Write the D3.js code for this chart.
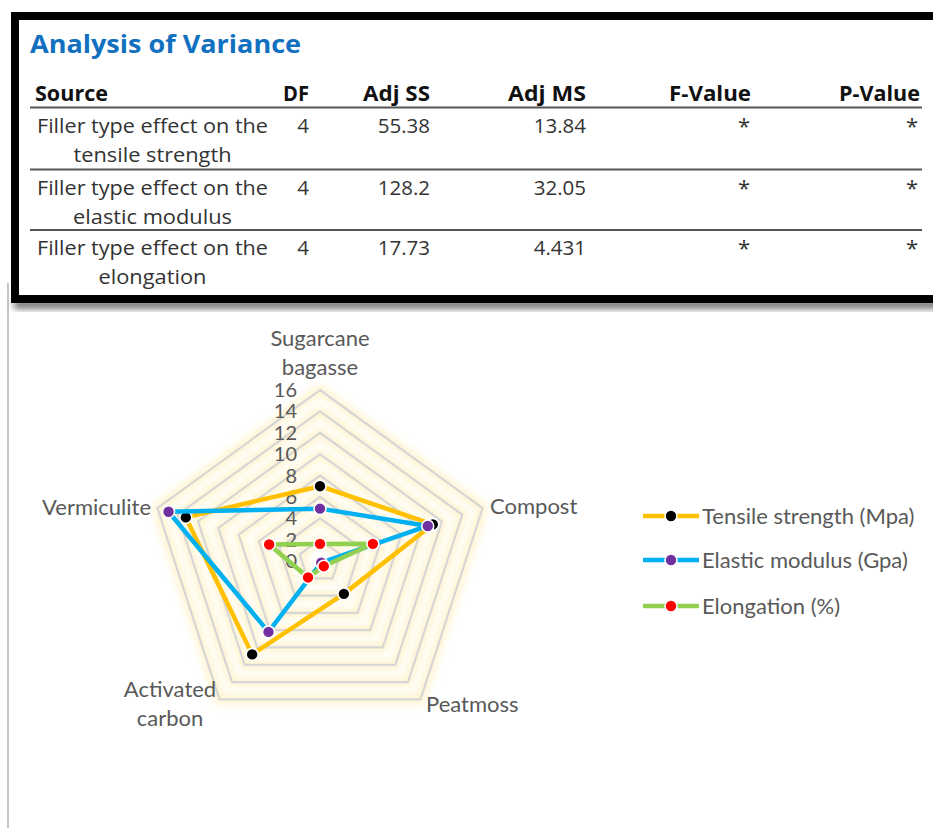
<!DOCTYPE html>
<html>
<head>
<meta charset="utf-8">
<script src="https://cdn.jsdelivr.net/npm/d3@7/dist/d3.min.js"></script>
<style>
  html, body { margin: 0; padding: 0; background: #ffffff; }
  svg { display: block; }
</style>
</head>
<body>
<svg id="chart" width="933" height="828"></svg>
<script>
// ---------- ANOVA table data ----------
const anovaTitle = "Analysis of Variance";
const anovaHeaders = ["Source", "DF", "Adj SS", "Adj MS", "F-Value", "P-Value"];
const anovaSource = [
  ["Filler type effect on the", "tensile strength"],
  ["Filler type effect on the", "elastic modulus"],
  ["Filler type effect on the", "elongation"]
];
const anovaDF = ["4", "4", "4"];
const anovaAdjSS = ["55.38", "128.2", "17.73"];
const anovaAdjMS = ["13.84", "32.05", "4.431"];
const anovaF = ["*", "*", "*"];
const anovaP = ["*", "*", "*"];

// ---------- Radar chart data ----------
const categories = ["Sugarcane\nbagasse", "Compost", "Peatmoss", "Activated\ncarbon", "Vermiculite"];
const tensile = [7.0, 11.1, 3.8, 10.8, 13.2];
const elastic = [4.9, 10.6, 0.2, 8.2, 14.9];
const elongation = [1.6, 5.2, 0.6, 1.9, 5.0];
const seriesNames = ["Tensile strength (Mpa)", "Elastic modulus (Gpa)", "Elongation (%)"];
const radialTicks = [0, 2, 4, 6, 8, 10, 12, 14, 16];

const svg = d3.select("#chart");
const defs = svg.append("defs");

// ---------- filters ----------
const shadow = defs.append("filter").attr("id", "shadow")
  .attr("x", "-5%").attr("y", "-30%").attr("width", "110%").attr("height", "160%");
shadow.append("feGaussianBlur").attr("stdDeviation", 3);

const glow = defs.append("filter").attr("id", "glow")
  .attr("x", "-20%").attr("y", "-20%").attr("width", "140%").attr("height", "140%");
glow.append("feGaussianBlur").attr("stdDeviation", 3.5);

// ---------- left border line of the chart area ----------
svg.append("line")
  .attr("x1", 8).attr("x2", 8).attr("y1", 283).attr("y2", 828)
  .attr("stroke", "#c4c4c4").attr("stroke-width", 2);

// ---------- table block ----------
const tbl = svg.append("g");
tbl.append("rect")
  .attr("x", 14).attr("y", 300).attr("width", 940).attr("height", 9)
  .attr("fill", "#7a7a7a").attr("filter", "url(#shadow)");
tbl.append("rect")
  .attr("x", 15).attr("y", 16).attr("width", 940).attr("height", 283)
  .attr("fill", "#ffffff").attr("stroke", "#000000").attr("stroke-width", 8);

const tFont = "'Open Sans', 'Noto Sans', sans-serif";
tbl.append("text")
  .attr("x", 30).attr("y", 53)
  .attr("font-family", tFont).attr("font-weight", 700).attr("font-size", 25)
  .attr("fill", "#1170bf")
  .attr("textLength", 271).attr("lengthAdjust", "spacingAndGlyphs")
  .text(anovaTitle);

const colX = [35, 309, 430, 586, 751, 920];
const colW = [73, 26, 67, 78, 82, 81];
tbl.selectAll("text.hdr").data(anovaHeaders).enter().append("text")
  .attr("class", "hdr")
  .attr("x", (d, i) => colX[i])
  .attr("y", 101)
  .attr("text-anchor", (d, i) => i === 0 ? "start" : "end")
  .attr("font-family", tFont).attr("font-weight", 700).attr("font-size", 21)
  .attr("fill", "#111111")
  .attr("textLength", (d, i) => colW[i]).attr("lengthAdjust", "spacingAndGlyphs")
  .text(d => d);

const rowLines = [107.5, 169.5, 230];
tbl.selectAll("line.sep").data(rowLines).enter().append("line")
  .attr("x1", 30).attr("x2", 922)
  .attr("y1", d => d).attr("y2", d => d)
  .attr("stroke", "#555555").attr("stroke-width", 2.2);

const rowBase = [133, 195, 255];
const rowGap = 28.5;
const line2W = [158, 159, 108];
anovaSource.forEach((lines, r) => {
  lines.forEach((ln, k) => {
    tbl.append("text")
      .attr("x", 152.5).attr("y", rowBase[r] + k * rowGap)
      .attr("text-anchor", "middle")
      .attr("font-family", tFont).attr("font-size", 20)
      .attr("fill", "#333333")
      .attr("textLength", k === 0 ? 231 : line2W[r])
      .attr("lengthAdjust", "spacingAndGlyphs")
      .text(ln);
  });
  const vals = [anovaDF[r], anovaAdjSS[r], anovaAdjMS[r], anovaF[r], anovaP[r]];
  const vx = [309, 430, 586, 750, 918];
  vals.forEach((v, c) => {
    tbl.append("text")
      .attr("x", vx[c]).attr("y", rowBase[r] + (c >= 3 ? 1 : 0))
      .attr("text-anchor", "end")
      .attr("font-family", tFont).attr("font-size", c >= 3 ? 22 : 20.5)
      .attr("fill", "#333333")
      .text(v);
  });
});

// ---------- radar chart ----------
const cx = 320, cy = 561, R = 171;
const rScale = d3.scaleLinear().domain([0, 16]).range([0, R]);
const n = categories.length;
const angle = i => (i * 2 * Math.PI) / n; // 0 = up, clockwise
const pt = (i, v) => [cx + rScale(v) * Math.sin(angle(i)), cy - rScale(v) * Math.cos(angle(i))];

const cFont = "Lato, 'Open Sans', sans-serif";
const gGrid = svg.append("g");
const ringPath = v => {
  const pts = d3.range(n).map(i => pt(i, v));
  return d3.line()(pts) + "Z";
};
const rings = radialTicks.filter(t => t > 0);
gGrid.selectAll("path.glow").data(rings).enter().append("path")
  .attr("d", ringPath)
  .attr("fill", "none")
  .attr("stroke", "#ffe699").attr("stroke-opacity", 0.45)
  .attr("stroke-width", 10)
  .attr("stroke-linejoin", "miter")
  .attr("filter", "url(#glow)");
gGrid.selectAll("path.ring").data(rings).enter().append("path")
  .attr("d", ringPath)
  .attr("fill", "none")
  .attr("stroke", "#d6d6d6")
  .attr("stroke-width", 2.2)
  .attr("stroke-linejoin", "miter");

// radial tick labels
svg.append("g").selectAll("text").data(radialTicks).enter().append("text")
  .attr("x", 297)
  .attr("y", d => cy - rScale(d))
  .attr("dy", "0.35em")
  .attr("text-anchor", "end")
  .attr("font-family", cFont).attr("font-size", 20)
  .attr("fill", "#595959")
  .text(d => d);

// category labels
const catPos = [
  { x: 320, y: 338, anchor: "middle" },
  { x: 490, y: 506, anchor: "start" },
  { x: 426, y: 704, anchor: "start" },
  { x: 170, y: 689, anchor: "middle" },
  { x: 151, y: 507, anchor: "end" }
];
const gCat = svg.append("g");
categories.forEach((c, i) => {
  const lines = c.split("\n");
  const t = gCat.append("text")
    .attr("font-family", cFont).attr("font-size", 22)
    .attr("fill", "#595959")
    .attr("text-anchor", catPos[i].anchor);
  lines.forEach((ln, k) => {
    t.append("tspan")
      .attr("x", catPos[i].x)
      .attr("y", catPos[i].y + k * 29.5)
      .attr("dy", "0.35em")
      .text(ln);
  });
});

// series
const series = [
  { name: seriesNames[0], values: tensile, line: "#ffc000", marker: "#000000" },
  { name: seriesNames[1], values: elastic, line: "#00b0f0", marker: "#7030a0" },
  { name: seriesNames[2], values: elongation, line: "#92d050", marker: "#ff0000" }
];
const gSeries = svg.append("g");
series.forEach(s => {
  const pts = s.values.map((v, i) => pt(i, v));
  gSeries.append("path")
    .attr("d", d3.line()(pts) + "Z")
    .attr("fill", "none")
    .attr("stroke", s.line)
    .attr("stroke-width", 4.5)
    .attr("stroke-linejoin", "round");
  gSeries.selectAll(null).data(pts).enter().append("circle")
    .attr("cx", d => d[0]).attr("cy", d => d[1])
    .attr("r", 6)
    .attr("fill", s.marker)
    .attr("stroke", "#ffffff").attr("stroke-width", 1.6);
});

// legend
const legY = [516, 560, 606];
const gLeg = svg.append("g");
series.forEach((s, i) => {
  gLeg.append("line")
    .attr("x1", 643).attr("x2", 699)
    .attr("y1", legY[i]).attr("y2", legY[i])
    .attr("stroke", s.line).attr("stroke-width", 4.5);
  gLeg.append("circle")
    .attr("cx", 671).attr("cy", legY[i]).attr("r", 6)
    .attr("fill", s.marker).attr("stroke", "#ffffff").attr("stroke-width", 1.6);
  gLeg.append("text")
    .attr("x", 702).attr("y", legY[i]).attr("dy", "0.35em")
    .attr("font-family", cFont).attr("font-size", 22)
    .attr("fill", "#595959")
    .text(s.name);
});
</script>
</body>
</html>
